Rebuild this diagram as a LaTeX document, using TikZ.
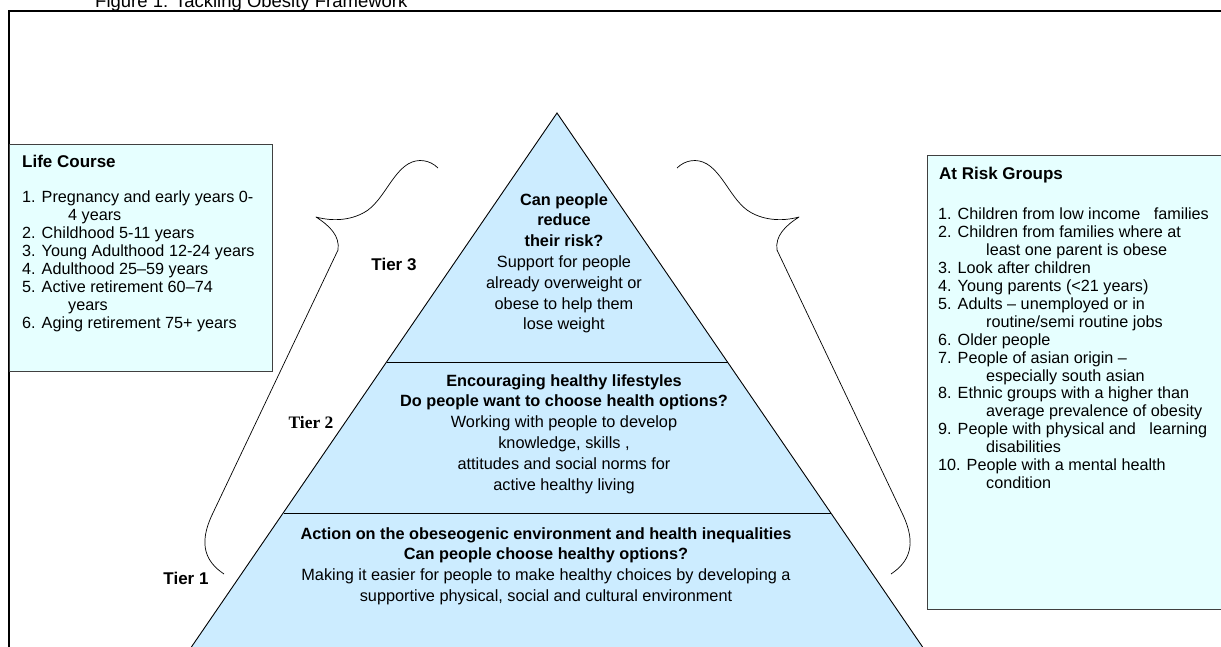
\documentclass[tikz,border=0pt]{standalone}
\usepackage{fontspec}
\setmainfont{Liberation Sans}
\newfontfamily\tierserif{Liberation Serif}

\definecolor{pyrblue}{RGB}{204,236,255}
\definecolor{boxcyan}{RGB}{230,255,255}

\tikzset{
  listtext/.style={anchor=north west, inner sep=0pt, align=left,
    font=\fontsize{16.2}{17.9}\selectfont},
  headtext/.style={anchor=base west, inner sep=0pt,
    font=\fontsize{17}{20}\selectfont\bfseries},
  tiertext/.style={anchor=north, inner sep=0pt, align=center,
    font=\fontsize{16.3}{20.8}\selectfont},
  tierlabel/.style={inner sep=0pt, font=\fontsize{17}{20}\selectfont\bfseries},
  sidebox/.style={draw=black!75, fill=boxcyan, line width=0.8pt},
  bracket/.style={line width=0.7pt, line join=round}
}

% left curly bracket, the right one is its mirror image
\newcommand{\bracepath}{(438,168) .. controls (430,160) and (418,158) .. (408,164)
  .. controls (392,174) and (384,198) .. (368,210)
  .. controls (354,220) and (334,222) .. (316,217)
  .. controls (330,226) and (340,236) .. (338,250)
  -- (212,515) .. controls (198,545) and (206,562) .. (224,574)}

\begin{document}
\begin{tikzpicture}[x=1pt,y=-1pt]
  \useasboundingbox (0,0) rectangle (1221,646);
  \clip (0,0) rectangle (1221,646);
  \fill[white] (0,0) rectangle (1221,646);

  \node[anchor=base west, inner sep=0pt, font=\fontsize{18.5}{22}\selectfont]
    (title) at (95,7) {Figure 1: Tackling Obesity Framework};
  \draw[line width=1.5pt] (9,11) rectangle (1240,680);

  % pyramid
  \coordinate (apex) at (557,113);
  \filldraw[fill=pyrblue, draw=black, line width=0.9pt]
    (apex) -- (182.5,660) -- (931.5,660) -- cycle;
  \draw[line width=0.9pt] (386.5,362) -- (727.5,362);
  \draw[line width=0.9pt] (283.7,513) -- (830.8,513);

  \node[tiertext] (tier3txt) at (564,193)
    {\textbf{Can people}\\\textbf{reduce}\\\textbf{their risk?}\\Support for people\\
     already overweight or\\obese to help them\\lose weight};
  \node[tiertext] (tier2txt) at (564,374)
    {\textbf{Encouraging healthy lifestyles}\\
     \textbf{Do people want to choose health options?}\\
     Working with people to develop\\knowledge, skills ,\\
     attitudes and social norms for\\active healthy living};
  \node[tiertext] (tier1txt) at (546,527)
    {\textbf{Action on the obeseogenic environment and health inequalities}\\
     \textbf{Can people choose healthy options?}\\
     Making it easier for people to make healthy choices by developing a\\
     supportive physical, social and cultural environment};

  \node[tierlabel] (tier3) at (394,264) {Tier 3};
  \node[tierlabel, font=\fontsize{17.5}{20}\selectfont\tierserif\bfseries] (tier2) at (311,423) {Tier 2};
  \node[tierlabel] (tier1) at (186,578) {Tier 1};

  % brackets
  \draw[bracket] \bracepath;
  \begin{scope}[cm={-1,0,0,1,(1115,0)}]
    \draw[bracket] \bracepath;
  \end{scope}

  % life course box
  \draw[sidebox] (9,144) rectangle (272,371);
  \node[headtext] (lifehead) at (22,167) {Life Course};
  \node[listtext] (lifelist) at (22,191)
    {1. Pregnancy and early years 0-\\\hspace*{46pt}4 years\\
     2. Childhood 5-11 years\\3. Young Adulthood 12-24 years\\
     4. Adulthood 25--59 years\\5. Active retirement 60--74\\
     \hspace*{46pt}years\\6. Aging retirement 75+ years};

  % at risk groups box
  \draw[sidebox] (927,155) rectangle (1225,609);
  \node[headtext] (riskhead) at (939,179) {At Risk Groups};
  \node[listtext] (risklist) at (938,208)
    {1. Children from low income\ \ \ families\\
     2. Children from families where at\\\hspace*{48pt}least one parent is obese\\
     3. Look after children\\4. Young parents (<21 years)\\
     5. Adults -- unemployed or in\\\hspace*{48pt}routine/semi routine jobs\\
     6. Older people\\7. People of asian origin --\\\hspace*{48pt}especially south asian\\
     8. Ethnic groups with a higher than\\\hspace*{48pt}average prevalence of obesity\\
     9. People with physical and\ \ \ learning\\\hspace*{48pt}disabilities\\
     10. People with a mental health\\\hspace*{48pt}condition};
\end{tikzpicture}
\end{document}
